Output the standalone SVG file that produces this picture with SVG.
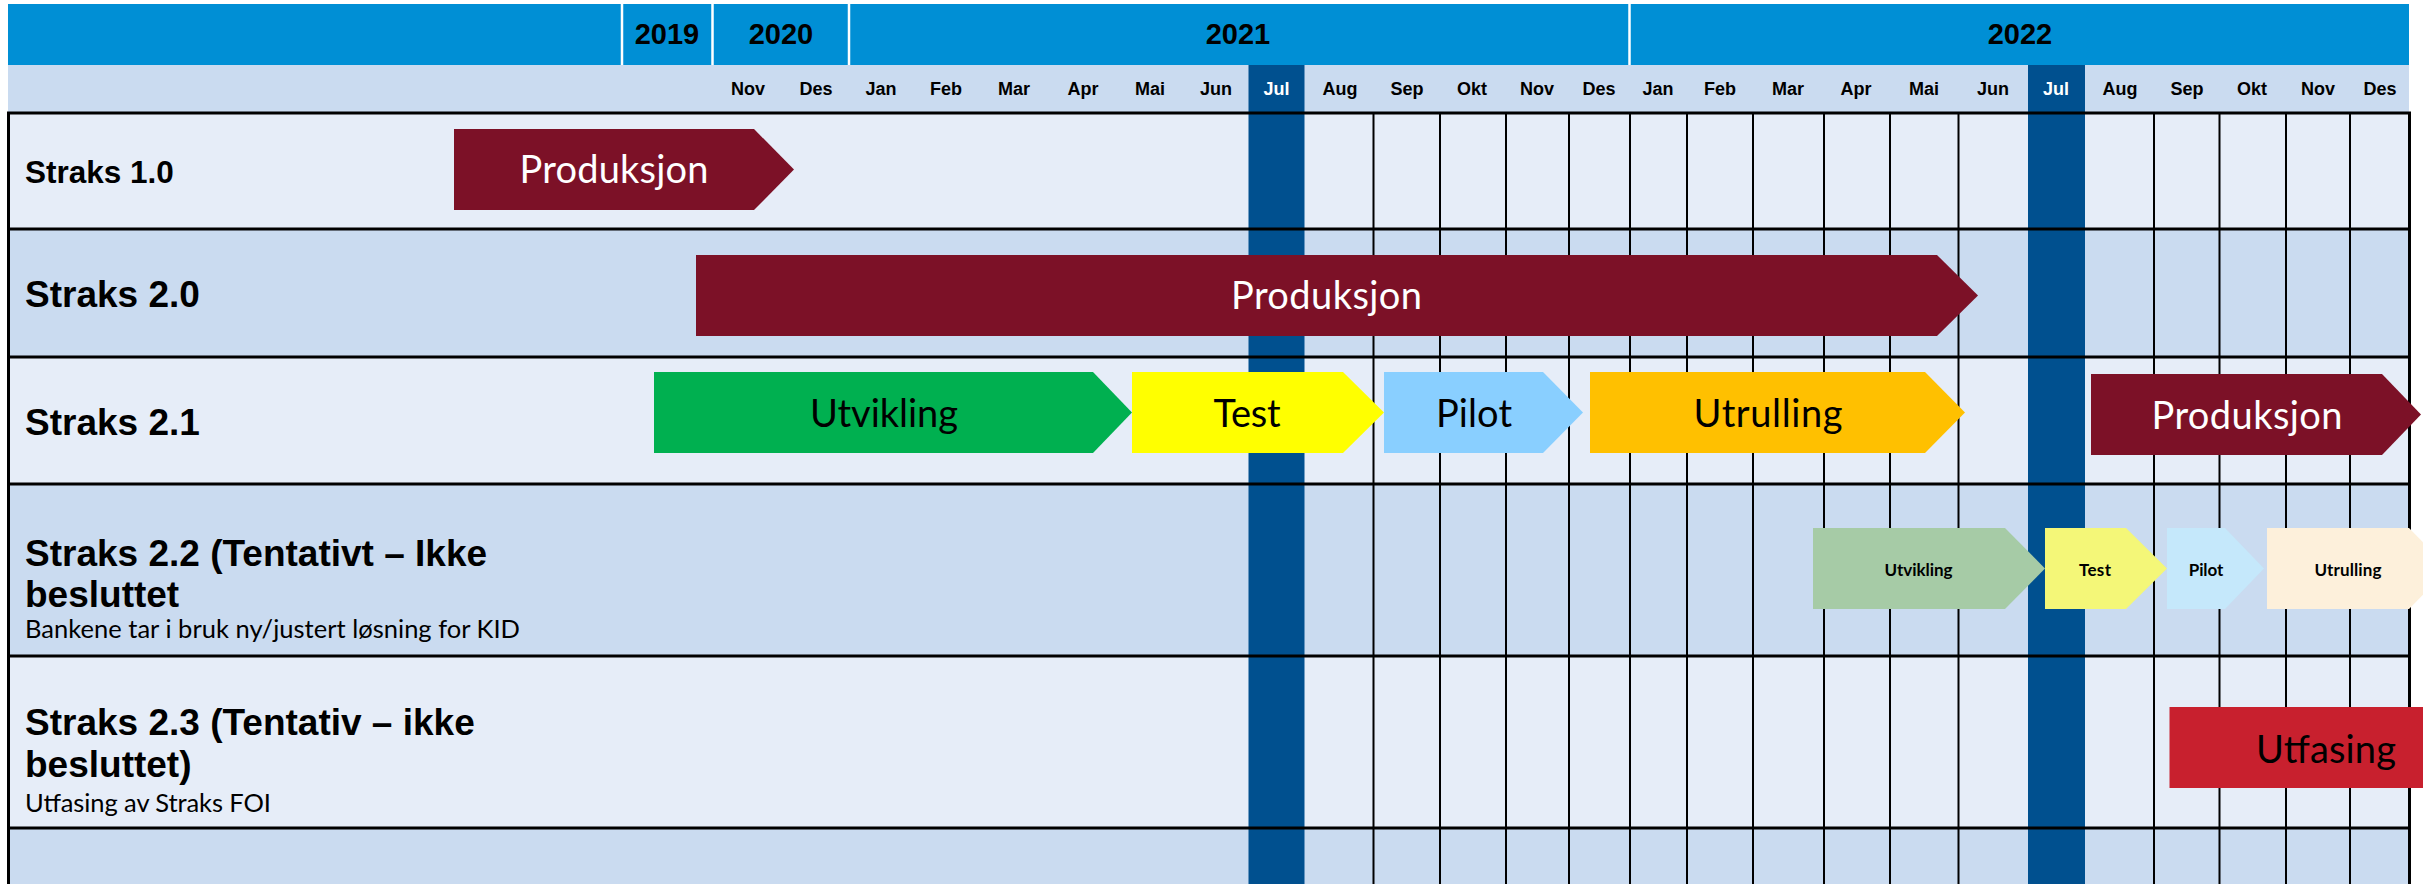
<svg xmlns="http://www.w3.org/2000/svg" width="2423" height="884" viewBox="0 0 2423 884">
<style>
.hd{font-family:"Liberation Sans",Arial,sans-serif;font-weight:bold;fill:#000}
.yr{font-size:29px;text-anchor:middle}
.mo{font-size:18px;text-anchor:middle}
.jul{fill:#fff}
.lbl{font-family:"Liberation Sans",Arial,sans-serif;font-weight:bold;fill:#000}
.sub{font-family:Lato,"Open Sans",sans-serif;font-size:25.5px;fill:#000}
.bar{font-family:Lato,"Open Sans",sans-serif;font-size:38px;text-anchor:middle}
.sm{font-family:Lato,"Open Sans",sans-serif;font-size:17px;font-weight:bold;text-anchor:middle;fill:#000}
.w{fill:#fff}
.k{fill:#000}
.vl{stroke:#000;stroke-width:2}
.hl{stroke:#000;stroke-width:3}
</style>
<rect width="2423" height="884" fill="#fff"/>
<g id="rows">
<rect x="8" y="113" width="2402" height="116" fill="#E6EDF8"/>
<rect x="8" y="229" width="2402" height="128" fill="#CADBF0"/>
<rect x="8" y="357" width="2402" height="127" fill="#E6EDF8"/>
<rect x="8" y="484" width="2402" height="172" fill="#CADBF0"/>
<rect x="8" y="656" width="2402" height="172" fill="#E6EDF8"/>
<rect x="8" y="828" width="2402" height="56" fill="#CADBF0"/>
</g>
<g id="header">
<rect x="8" y="4" width="2401" height="61" fill="#008FD5"/>
<rect x="8" y="65" width="2401" height="48" fill="#CADBF0"/>
<g stroke="#fff" stroke-width="2.5">
<line x1="622" y1="4" x2="622" y2="65"/>
<line x1="712.5" y1="4" x2="712.5" y2="65"/>
<line x1="849" y1="4" x2="849" y2="65"/>
<line x1="1629.5" y1="4" x2="1629.5" y2="65"/>
</g>
<text class="hd yr" x="667" y="44">2019</text>
<text class="hd yr" x="781" y="44">2020</text>
<text class="hd yr" x="1238" y="44">2021</text>
<text class="hd yr" x="2020" y="44">2022</text>
</g>
<g id="jul-columns">
<rect x="1248.5" y="65" width="56" height="819" fill="#00508F"/>
<rect x="2028" y="65" width="57" height="819" fill="#00508F"/>
</g>
<g id="months">
<text class="hd mo" x="748" y="95">Nov</text>
<text class="hd mo" x="816" y="95">Des</text>
<text class="hd mo" x="881" y="95">Jan</text>
<text class="hd mo" x="946" y="95">Feb</text>
<text class="hd mo" x="1014" y="95">Mar</text>
<text class="hd mo" x="1083" y="95">Apr</text>
<text class="hd mo" x="1150" y="95">Mai</text>
<text class="hd mo" x="1216" y="95">Jun</text>
<text class="hd mo jul" x="1276.5" y="95">Jul</text>
<text class="hd mo" x="1340" y="95">Aug</text>
<text class="hd mo" x="1407" y="95">Sep</text>
<text class="hd mo" x="1472" y="95">Okt</text>
<text class="hd mo" x="1537" y="95">Nov</text>
<text class="hd mo" x="1599" y="95">Des</text>
<text class="hd mo" x="1658" y="95">Jan</text>
<text class="hd mo" x="1720" y="95">Feb</text>
<text class="hd mo" x="1788" y="95">Mar</text>
<text class="hd mo" x="1856" y="95">Apr</text>
<text class="hd mo" x="1924" y="95">Mai</text>
<text class="hd mo" x="1993" y="95">Jun</text>
<text class="hd mo jul" x="2056" y="95">Jul</text>
<text class="hd mo" x="2120" y="95">Aug</text>
<text class="hd mo" x="2187" y="95">Sep</text>
<text class="hd mo" x="2252" y="95">Okt</text>
<text class="hd mo" x="2318" y="95">Nov</text>
<text class="hd mo" x="2380" y="95">Des</text>
</g>
<g id="grid">
<g class="vl">
<line x1="1373.5" y1="113" x2="1373.5" y2="884"/>
<line x1="1440" y1="113" x2="1440" y2="884"/>
<line x1="1506" y1="113" x2="1506" y2="884"/>
<line x1="1569" y1="113" x2="1569" y2="884"/>
<line x1="1630" y1="113" x2="1630" y2="884"/>
<line x1="1687" y1="113" x2="1687" y2="884"/>
<line x1="1753" y1="113" x2="1753" y2="884"/>
<line x1="1824" y1="113" x2="1824" y2="884"/>
<line x1="1890" y1="113" x2="1890" y2="884"/>
<line x1="1958.5" y1="113" x2="1958.5" y2="884"/>
<line x1="2154" y1="113" x2="2154" y2="884"/>
<line x1="2219.5" y1="113" x2="2219.5" y2="884"/>
<line x1="2286" y1="113" x2="2286" y2="884"/>
<line x1="2350" y1="113" x2="2350" y2="884"/>
</g>
<line class="hl" x1="8.5" y1="112" x2="8.5" y2="884" stroke-width="2.5"/>
<line class="hl" x1="2409.5" y1="112" x2="2409.5" y2="884" stroke-width="2.5"/>
<line class="hl" x1="7" y1="113" x2="2411" y2="113"/>
<line class="hl" x1="7" y1="229" x2="2411" y2="229"/>
<line class="hl" x1="7" y1="357" x2="2411" y2="357"/>
<line class="hl" x1="7" y1="484" x2="2411" y2="484"/>
<line class="hl" x1="7" y1="656" x2="2411" y2="656"/>
<line class="hl" x1="7" y1="828" x2="2411" y2="828"/>
</g>
<g id="label-straks-1-0"><text class="lbl" x="25" y="183" font-size="31.5">Straks 1.0</text></g>
<g id="label-straks-2-0"><text class="lbl" x="25" y="306.5" font-size="37">Straks 2.0</text></g>
<g id="label-straks-2-1"><text class="lbl" x="25" y="435" font-size="37">Straks 2.1</text></g>
<g id="label-straks-2-2">
<text class="lbl" x="25" y="566" font-size="37">Straks 2.2 (Tentativt – Ikke</text>
<text class="lbl" x="25" y="607" font-size="37">besluttet</text>
<text class="sub" x="25" y="638" textLength="495">Bankene tar i bruk ny/justert løsning for KID</text>
</g>
<g id="label-straks-2-3">
<text class="lbl" x="25" y="735" font-size="37">Straks 2.3 (Tentativ – ikke</text>
<text class="lbl" x="25" y="776.5" font-size="37">besluttet)</text>
<text class="sub" x="25" y="811.5" textLength="246">Utfasing av Straks FOI</text>
</g>
<g id="bar-s10-produksjon">
<path d="M454 129H754L794 169.5L754 210H454Z" fill="#7C1127"/>
<text class="bar w" x="614" y="183" textLength="189">Produksjon</text>
</g>
<g id="bar-s20-produksjon">
<path d="M696 255H1937L1978 295.5L1937 336H696Z" fill="#7C1127"/>
<text class="bar w" x="1326.5" y="309" textLength="191">Produksjon</text>
</g>
<g id="bar-s21-utvikling">
<path d="M654 372H1093L1132 412.5L1093 453H654Z" fill="#00B050"/>
<text class="bar k" x="884" y="427" textLength="148">Utvikling</text>
</g>
<g id="bar-s21-test">
<path d="M1132 372H1343L1384 412.5L1343 453H1132Z" fill="#FFFF00"/>
<text class="bar k" x="1247" y="427" textLength="67">Test</text>
</g>
<g id="bar-s21-pilot">
<path d="M1384 372H1543L1583 412.5L1543 453H1384Z" fill="#89CFFF"/>
<text class="bar k" x="1474" y="427" textLength="76">Pilot</text>
</g>
<g id="bar-s21-utrulling">
<path d="M1590 372H1925L1965 412.5L1925 453H1590Z" fill="#FFC000"/>
<text class="bar k" x="1768" y="427" textLength="149">Utrulling</text>
</g>
<g id="bar-s21-produksjon">
<path d="M2091 374H2382L2421 414.5L2382 455H2091Z" fill="#7C1127"/>
<text class="bar w" x="2247" y="428.5" textLength="191">Produksjon</text>
</g>
<g id="bar-s22-utvikling">
<path d="M1813 528H2005L2045 568.5L2005 609H1813Z" fill="#A6CBA6"/>
<text class="sm" x="1918.5" y="576" textLength="68">Utvikling</text>
</g>
<g id="bar-s22-test">
<path d="M2045 528H2126L2167 568.5L2126 609H2045Z" fill="#F4F778"/>
<text class="sm" x="2095" y="576" textLength="32">Test</text>
</g>
<g id="bar-s22-pilot">
<path d="M2167 528H2225L2264 568.5L2225 609H2167Z" fill="#C5E8FB"/>
<text class="sm" x="2206" y="576" textLength="34.5">Pilot</text>
</g>
<g id="bar-s22-utrulling">
<path d="M2267 528H2409L2449 568.5L2409 609H2267Z" fill="#FDF0DB"/>
<text class="sm" x="2348" y="576" textLength="67">Utrulling</text>
</g>
<g id="bar-s23-utfasing">
<rect x="2169.5" y="707" width="260" height="81" fill="#C8202E"/>
<text class="bar k" x="2326" y="762.5" textLength="140">Utfasing</text>
</g>
</svg>
